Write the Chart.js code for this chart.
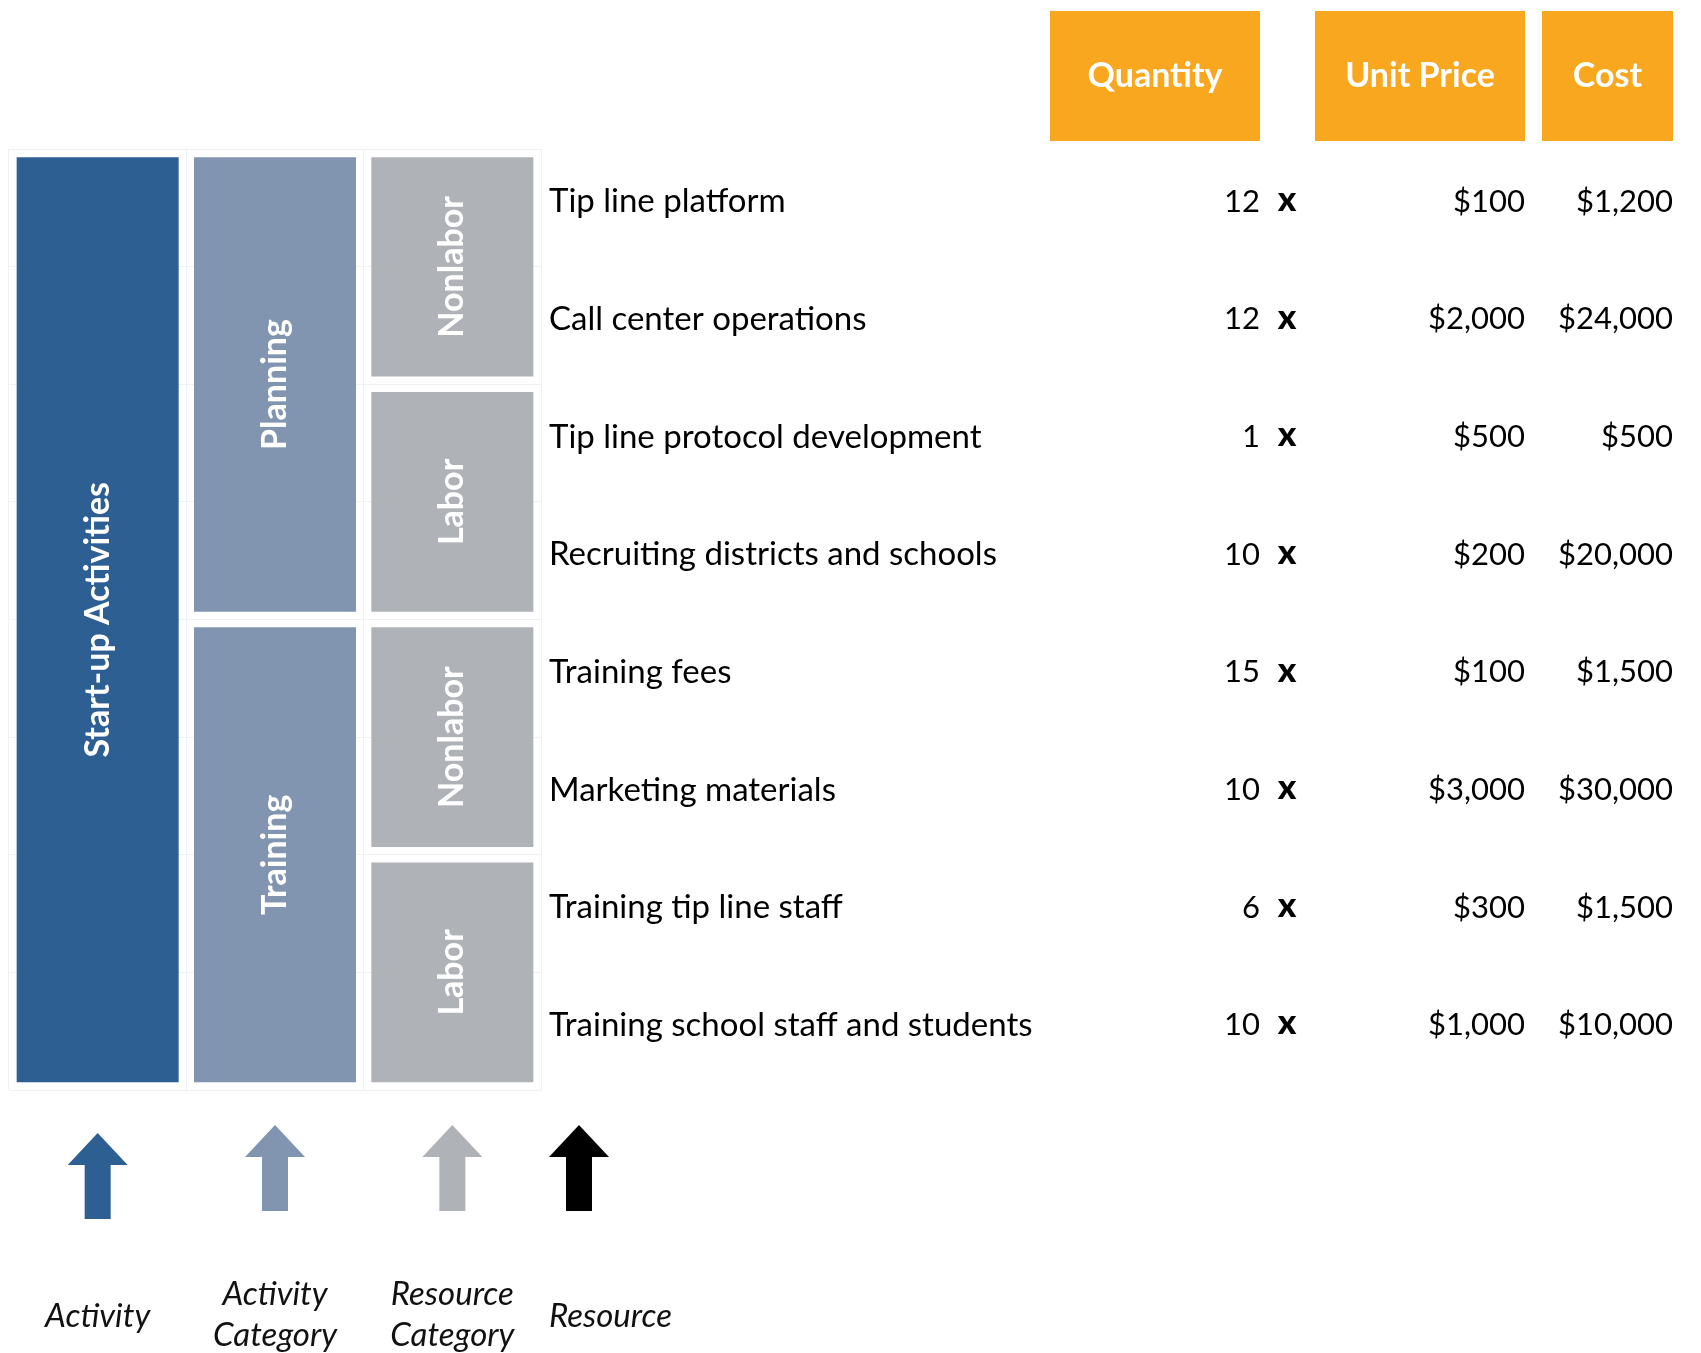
<!DOCTYPE html>
<html>
<head>
<meta charset="utf-8">
<script src="https://cdn.jsdelivr.net/npm/chart.js@4.4.1/dist/chart.umd.min.js"></script>
<style>
  html, body { margin: 0; padding: 0; background: #fff; }
  #wrap { position: relative; width: 1701px; height: 1353px; }
</style>
</head>
<body>
<div id="wrap"><canvas id="costChart" width="1701" height="1353"></canvas></div>
<script>
// data
const columns = ['Activity', 'Activity Category', 'Resource Category'];
const activity = ['Start-up Activities', 'Start-up Activities', 'Start-up Activities', 'Start-up Activities',
                  'Start-up Activities', 'Start-up Activities', 'Start-up Activities', 'Start-up Activities'];
const activityCategory = ['Planning', 'Planning', 'Planning', 'Planning',
                          'Training', 'Training', 'Training', 'Training'];
const resourceCategory = ['Nonlabor', 'Nonlabor', 'Labor', 'Labor',
                          'Nonlabor', 'Nonlabor', 'Labor', 'Labor'];
const resources = ['Tip line platform', 'Call center operations', 'Tip line protocol development',
                   'Recruiting districts and schools', 'Training fees', 'Marketing materials',
                   'Training tip line staff', 'Training school staff and students'];
const quantities = [12, 12, 1, 10, 15, 10, 6, 10];
const unitPrices = [100, 2000, 500, 200, 100, 3000, 300, 1000];
const costs = [1200, 24000, 500, 20000, 1500, 30000, 1500, 10000];
const headers = ['Quantity', 'Unit Price', 'Cost'];

const FONT = 'Lato, "Noto Sans", sans-serif';
const colColors = ['#2E5F93', '#8195B1', '#AFB2B6'];

// table layout (right edges of number columns)
const tableCols = { qtyRight: 1260, timesX: 1287, priceRight: 1525, costRight: 1673 };
const headerBox = { top: 11, bottom: 141, widths: [210, 210, 131] };

// consecutive equal values -> one block
function spans(values) {
  const out = [];
  values.forEach((v, i) => {
    const last = out[out.length - 1];
    if (last && last.label === v) last.end = i + 1;
    else out.push({ label: v, start: i, end: i + 1 });
  });
  return out;
}

const datasets = [];
[activity, activityCategory, resourceCategory].forEach((vals, c) => {
  spans(vals).forEach(s => {
    datasets.push({
      label: s.label,
      data: [{ x: columns[c], y: [s.start, s.end] }],
      backgroundColor: colColors[c],
      borderColor: 'rgba(0,0,0,0)',
      borderWidth: 8,
      borderSkipped: false,
      grouped: false,
      barPercentage: 1,
      categoryPercentage: 1
    });
  });
});

const money = v => '$' + v.toLocaleString('en-US');

function drawArrow(ctx, cx, tip, bottom, color) {
  const headW = 60, headH = 32, shaftW = 26;
  ctx.fillStyle = color;
  ctx.beginPath();
  ctx.moveTo(cx, tip);
  ctx.lineTo(cx + headW / 2, tip + headH);
  ctx.lineTo(cx + shaftW / 2, tip + headH);
  ctx.lineTo(cx + shaftW / 2, bottom);
  ctx.lineTo(cx - shaftW / 2, bottom);
  ctx.lineTo(cx - shaftW / 2, tip + headH);
  ctx.lineTo(cx - headW / 2, tip + headH);
  ctx.closePath();
  ctx.fill();
}

const tablePlugin = {
  id: 'tablePlugin',
  afterDraw(chart) {
    const ctx = chart.ctx;
    const xs = chart.scales.x;
    const ys = chart.scales.y;
    ctx.save();

    // rotated labels in the blocks
    ctx.fillStyle = '#fff';
    ctx.font = 'bold 34px ' + FONT;
    ctx.textAlign = 'center';
    ctx.textBaseline = 'middle';
    chart.data.datasets.forEach((ds, i) => {
      const el = chart.getDatasetMeta(i).data[0];
      const p = el.getProps(['x', 'y', 'base'], true);
      ctx.save();
      ctx.translate(p.x, (p.y + p.base) / 2);
      ctx.rotate(-Math.PI / 2);
      ctx.fillText(ds.label, 0, 0);
      ctx.restore();
    });

    // headers
    const rights = [tableCols.qtyRight, tableCols.priceRight, tableCols.costRight];
    headers.forEach((h, i) => {
      const r = rights[i], w = headerBox.widths[i];
      ctx.fillStyle = '#F9A71E';
      ctx.fillRect(r - w, headerBox.top, w, headerBox.bottom - headerBox.top);
      ctx.fillStyle = '#fff';
      ctx.font = 'bold 34px ' + FONT;
      ctx.textAlign = 'center';
      ctx.fillText(h, r - w / 2, (headerBox.top + headerBox.bottom) / 2);
    });

    // rows
    const nameLeft = xs.right + 8;
    resources.forEach((name, i) => {
      const y = ys.getPixelForValue(i + 0.5) - 6;
      ctx.fillStyle = '#000';
      ctx.font = '33px ' + FONT;
      ctx.textAlign = 'left';
      ctx.fillText(name, nameLeft, y);
      ctx.font = '31px ' + FONT;
      ctx.textAlign = 'right';
      ctx.fillText(String(quantities[i]), tableCols.qtyRight, y);
      ctx.fillText(money(unitPrices[i]), tableCols.priceRight, y);
      ctx.fillText(money(costs[i]), tableCols.costRight, y);
      ctx.font = '900 35px ' + FONT;
      ctx.textAlign = 'center';
      ctx.fillText('x', tableCols.timesX, y - 2);
    });

    // key arrows and labels
    ctx.font = 'italic 33px ' + FONT;
    columns.forEach((c, i) => {
      const cx = xs.getPixelForValue(i);
      const drop = i === 0 ? 8 : 0;
      drawArrow(ctx, cx, 1125 + drop, 1211 + drop, colColors[i]);
      const words = c.split(' ');
      ctx.fillStyle = '#111';
      ctx.textAlign = 'center';
      if (words.length === 1) ctx.fillText(c, cx, 1316);
      else words.forEach((w, k) => ctx.fillText(w, cx, 1294 + k * 41));
    });
    drawArrow(ctx, nameLeft + 30, 1125, 1211, '#000');
    ctx.fillStyle = '#111';
    ctx.textAlign = 'left';
    ctx.fillText('Resource', nameLeft, 1316);

    ctx.restore();
  }
};

new Chart(document.getElementById('costChart'), {
  type: 'bar',
  data: { labels: columns, datasets: datasets },
  options: {
    responsive: false,
    animation: false,
    layout: { padding: { left: 9, right: 1160, top: 149, bottom: 263 } },
    plugins: { legend: { display: false }, tooltip: { enabled: false } },
    scales: {
      x: {
        type: 'category',
        offset: true,
        ticks: { display: false },
        grid: { offset: true, color: '#eef1f5', drawTicks: false },
        border: { display: false }
      },
      y: {
        type: 'linear',
        min: 0,
        max: 8,
        reverse: true,
        ticks: { display: false, stepSize: 1 },
        grid: { color: '#eef1f5', drawTicks: false },
        border: { display: false }
      }
    }
  },
  plugins: [tablePlugin]
});
</script>
</body>
</html>
